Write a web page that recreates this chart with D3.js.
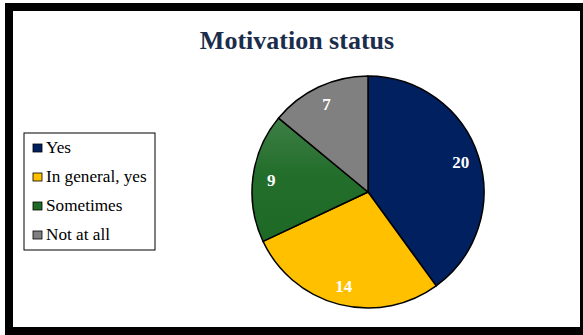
<!DOCTYPE html>
<html>
<head>
<meta charset="utf-8">
<script src="https://cdn.jsdelivr.net/npm/d3@7"></script>
<style>
  html, body { margin: 0; padding: 0; background: #fff; }
  svg { display: block; }
  text { font-family: "Liberation Serif", "Times New Roman", Times, serif; }
</style>
</head>
<body>
<svg id="chart" width="583" height="335"></svg>
<script>
// Survey answers: how motivated respondents feel
const categories = ["Yes", "In general, yes", "Sometimes", "Not at all"];
const counts = [20, 14, 9, 7];
const colors = ["#002060", "#FFC000", "url(#greenFill)", "#808080"];
const legendColors = ["#002060", "#FFC000", "#1E6B27", "#808080"];
const title = "Motivation status";

const svg = d3.select("#chart");
const W = 583, H = 335;

// gradient for the green slice
const defs = svg.append("defs");
const g1 = defs.append("linearGradient").attr("id", "greenFill")
  .attr("x1", 0).attr("y1", 0).attr("x2", 0).attr("y2", 1);
g1.append("stop").attr("offset", "0%").attr("stop-color", "#3E7F47");
g1.append("stop").attr("offset", "45%").attr("stop-color", "#236E2B");
g1.append("stop").attr("offset", "100%").attr("stop-color", "#1D6925");

// frame
svg.append("rect").attr("x", 0).attr("y", 0).attr("width", W).attr("height", H).attr("fill", "#fff");
svg.append("rect").attr("x", 5).attr("y", 3).attr("width", W - 5).attr("height", H - 3).attr("fill", "#000");
svg.append("rect").attr("x", 13).attr("y", 11).attr("width", 567).attr("height", 316).attr("fill", "#fff");

// title
svg.append("text")
  .attr("x", 297).attr("y", 49)
  .attr("text-anchor", "middle")
  .attr("font-weight", "bold")
  .attr("font-size", 26)
  .attr("fill", "#1B2D4B")
  .text(title);

// pie
const cx = 368, cy = 192, r = 116;
const data = categories.map((c, i) => ({ cat: c, value: counts[i], color: colors[i] }));
const pie = d3.pie().value(d => d.value).sort(null);
const arc = d3.arc().innerRadius(0).outerRadius(r);
const labelArc = d3.arc().innerRadius(r * 0.84).outerRadius(r * 0.84);

const pg = svg.append("g").attr("transform", `translate(${cx},${cy})`);
const arcs = pie(data);
pg.selectAll("path").data(arcs).join("path")
  .attr("d", arc)
  .attr("fill", d => d.data.color)
  .attr("stroke", "#000")
  .attr("stroke-width", 1.5)
  .attr("stroke-linejoin", "round");

pg.selectAll("text").data(arcs).join("text")
  .attr("transform", d => `translate(${labelArc.centroid(d)})`)
  .attr("text-anchor", "middle")
  .attr("dy", "0.35em")
  .attr("font-weight", "bold")
  .attr("font-size", 17)
  .attr("fill", "#fff")
  .text(d => d.data.value);

// legend
const lg = svg.append("g");
lg.append("rect").attr("x", 24).attr("y", 133).attr("width", 131).attr("height", 117)
  .attr("fill", "#fff").attr("stroke", "#000").attr("stroke-width", 1);
const rowY = d3.scalePoint().domain(categories).range([153, 240]);
const items = lg.selectAll("g.item").data(categories).join("g").attr("class", "item")
  .attr("transform", d => `translate(0,${rowY(d)})`);
items.append("rect")
  .attr("x", 33).attr("y", -9).attr("width", 9).attr("height", 8)
  .attr("fill", (d, i) => legendColors[i])
  .attr("stroke", "#000").attr("stroke-width", 0.8);
items.append("text")
  .attr("x", 46)
  .attr("font-size", 17.2)
  .attr("fill", "#000")
  .text(d => d);
</script>
</body>
</html>
